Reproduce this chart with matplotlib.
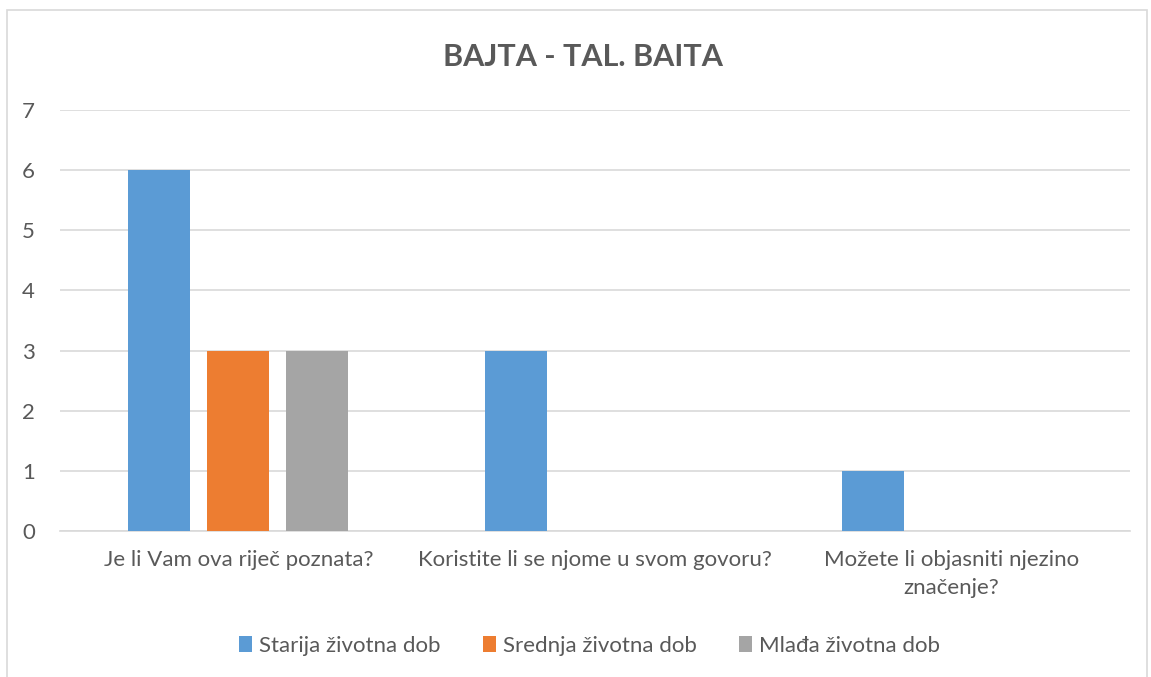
import numpy as np
import matplotlib.pyplot as plt
from matplotlib.patches import Rectangle

plt.rcParams['font.family'] = ['Lato', 'DejaVu Sans']

# data
categories = ['Je li Vam ova riječ poznata?',
              'Koristite li se njome u svom govoru?',
              'Možete li objasniti njezino\nznačenje?']
series_names = ['Starija životna dob', 'Srednja životna dob', 'Mlađa životna dob']
starija = [6, 3, 1]
srednja = [3, 0, 0]
mladja = [3, 0, 0]
colors = ['#5b9bd5', '#ed7d31', '#a5a5a5']
yticks = [0, 1, 2, 3, 4, 5, 6, 7]

fig = plt.figure(figsize=(11.51, 6.77), dpi=100)
ax = fig.add_axes([0.0521, 0.2157, 0.9296, 0.6218])

# outer chart border
fig.patches.append(Rectangle((7 / 1151, -0.01), 1140 / 1151, 1 - 10 / 677 + 0.01,
                             transform=fig.transFigure, fill=False,
                             edgecolor='#d9d9d9', linewidth=1.2))

x = np.arange(len(categories))
width = 0.174
step = 0.2215
for k, vals in enumerate([starija, srednja, mladja]):
    ax.bar(x + (k - 1) * step, vals, width, color=colors[k], label=series_names[k], zorder=3)

ax.set_xlim(-0.5, 2.5)
ax.set_ylim(0, 7)
ax.set_yticks(yticks)
ax.yaxis.grid(True, color='#d9d9d9', linewidth=1.2, zorder=0)
for s in ['top', 'right', 'left']:
    ax.spines[s].set_visible(False)
ax.spines['bottom'].set_color('#d9d9d9')
ax.spines['bottom'].set_linewidth(1.2)
ax.tick_params(axis='both', length=0, labelsize=16, colors='#595959')
ax.tick_params(axis='y', pad=18)
ax.tick_params(axis='x', pad=14)
ax.set_xticks(x)
ax.set_xticklabels(categories, linespacing=1.45)

fig.text(0.5065, 1 - 57 / 677, 'BAJTA - TAL. BAITA', ha='center', va='center',
         fontsize=22, fontweight='bold', color='#595959')

fig.legend(loc='center', bbox_to_anchor=(0.512, 1 - 646 / 677), ncol=3, frameon=False,
           fontsize=16, handlelength=0.6, handleheight=0.7, handletextpad=0.3,
           columnspacing=1.9, labelcolor='#595959')

fig.savefig('out.png', dpi=100)
